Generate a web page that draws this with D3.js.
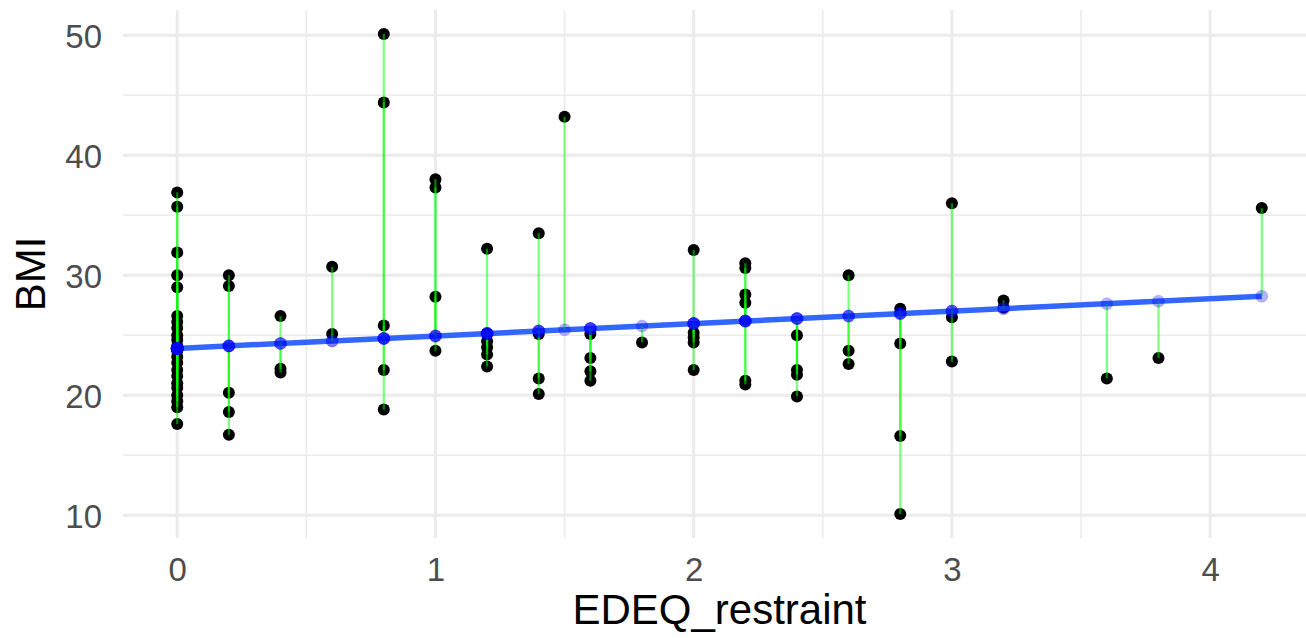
<!DOCTYPE html>
<html>
<head>
<meta charset="utf-8">
<script src="https://cdn.jsdelivr.net/npm/d3@7"></script>
<style>
  body { margin: 0; background: #fff; }
  text { font-family: "Liberation Sans", Arial, Helvetica, sans-serif; }
</style>
</head>
<body>
<div id="chart"></div>
<script>
// EDEQ restraint levels and the BMI values observed at each level
const restraintLevels = [0, 0.2, 0.4, 0.6, 0.8, 1.0, 1.2, 1.4, 1.5, 1.6, 1.8, 2.0, 2.2, 2.4, 2.6, 2.8, 3.0, 3.2, 3.6, 3.8, 4.2];
const bmiAtLevel = [
  [36.9, 35.7, 31.9, 30.0, 29.0, 26.6, 26.1, 25.6, 25.0, 24.6, 24.1, 23.7, 23.2, 22.7, 22.1, 21.6, 21.0, 20.6, 20.0, 19.5, 19.0, 17.6],
  [30.0, 29.1, 20.2, 18.6, 16.7],
  [26.6, 22.2, 21.9],
  [30.7, 25.1],
  [50.1, 44.4, 25.8, 22.1, 18.8],
  [38.0, 37.3, 28.2, 23.7],
  [32.2, 25.1, 24.5, 24.0, 23.4, 22.4],
  [33.5, 25.1, 21.4, 20.1],
  [43.2],
  [25.1, 23.1, 22.0, 21.2],
  [24.4],
  [32.1, 25.2, 24.8, 24.4, 22.1],
  [31.0, 30.6, 28.4, 27.7, 21.2, 20.9],
  [25.0, 22.1, 21.7, 19.9],
  [30.0, 23.7, 22.6],
  [27.2, 24.3, 16.6, 10.1],
  [36.0, 26.5, 22.8],
  [27.9, 27.3],
  [21.4],
  [23.1],
  [35.6]
];

// fitted line: BMI = intercept + slope * restraint
const fitIntercept = 23.9;
const fitSlope = 1.036;

const xTicks = [0, 1, 2, 3, 4];
const xMinor = [0.5, 1.5, 2.5, 3.5];
const yTicks = [10, 20, 30, 40, 50];
const yMinor = [15, 25, 35, 45];

const width = 1306, height = 638;
const panel = { left: 123, right: 1316, top: 10, bottom: 538 };

const points = [];
restraintLevels.forEach((x, i) => {
  bmiAtLevel[i].forEach((y) => {
    points.push({ x: x, y: y, fit: fitIntercept + fitSlope * x });
  });
});

const xExtent = d3.extent(points, (d) => d.x);
const yExtent = d3.extent(points, (d) => d.y);
const xPad = (xExtent[1] - xExtent[0]) * 0.05;
const yPad = (yExtent[1] - yExtent[0]) * 0.05;

const x = d3.scaleLinear()
  .domain([xExtent[0] - xPad, xExtent[1] + xPad])
  .range([panel.left, panel.right]);
const y = d3.scaleLinear()
  .domain([yExtent[0] - yPad, yExtent[1] + yPad])
  .range([panel.bottom, panel.top]);

const svg = d3.select("#chart")
  .append("svg")
  .attr("width", width)
  .attr("height", height);

// grid
const grid = svg.append("g").attr("stroke", "#EBEBEB");
grid.selectAll(".ymin").data(yMinor).join("line")
  .attr("x1", panel.left).attr("x2", panel.right)
  .attr("y1", (d) => y(d)).attr("y2", (d) => y(d))
  .attr("stroke-width", 1.6);
grid.selectAll(".xmin").data(xMinor).join("line")
  .attr("y1", panel.top).attr("y2", panel.bottom)
  .attr("x1", (d) => x(d)).attr("x2", (d) => x(d))
  .attr("stroke-width", 1.6);
grid.selectAll(".ymaj").data(yTicks).join("line")
  .attr("x1", panel.left).attr("x2", panel.right)
  .attr("y1", (d) => y(d)).attr("y2", (d) => y(d))
  .attr("stroke-width", 3);
grid.selectAll(".xmaj").data(xTicks).join("line")
  .attr("y1", panel.top).attr("y2", panel.bottom)
  .attr("x1", (d) => x(d)).attr("x2", (d) => x(d))
  .attr("stroke-width", 3);

// axes (ticks and labels only, theme_minimal style)
const xAxis = svg.append("g")
  .attr("transform", `translate(0, ${panel.bottom})`)
  .call(d3.axisBottom(x).tickValues(xTicks).tickSize(0).tickPadding(10).tickFormat(d3.format("d")));
const yAxis = svg.append("g")
  .attr("transform", `translate(${panel.left}, 0)`)
  .call(d3.axisLeft(y).tickValues(yTicks).tickSize(0).tickPadding(21).tickFormat(d3.format("d")));
[xAxis, yAxis].forEach((a) => {
  a.select(".domain").remove();
  a.selectAll("text")
    .attr("fill", "#4D4D4D")
    .style("font-size", "33px")
    .style("font-family", '"Liberation Sans", Arial, sans-serif');
});
xAxis.selectAll("text").attr("dy", "0.71em").attr("y", 20);
yAxis.selectAll("text").attr("dy", "0.36em");

// observed points
svg.append("g")
  .selectAll("circle")
  .data(points)
  .join("circle")
  .attr("cx", (d) => x(d.x))
  .attr("cy", (d) => y(d.y))
  .attr("r", 6)
  .attr("fill", "black");

// regression line
svg.append("line")
  .attr("x1", x(xExtent[0]))
  .attr("y1", y(fitIntercept + fitSlope * xExtent[0]))
  .attr("x2", x(xExtent[1]))
  .attr("y2", y(fitIntercept + fitSlope * xExtent[1]))
  .attr("stroke", "#3366FF")
  .attr("stroke-width", 5.5);

// residual segments
svg.append("g")
  .selectAll("line")
  .data(points)
  .join("line")
  .attr("x1", (d) => x(d.x))
  .attr("x2", (d) => x(d.x))
  .attr("y1", (d) => y(d.y))
  .attr("y2", (d) => y(d.fit))
  .attr("stroke", "#00FF00")
  .attr("stroke-opacity", 0.5)
  .attr("stroke-width", 2.2);

// fitted values
svg.append("g")
  .selectAll("circle")
  .data(points)
  .join("circle")
  .attr("cx", (d) => x(d.x))
  .attr("cy", (d) => y(d.fit))
  .attr("r", 6)
  .attr("fill", "blue")
  .attr("fill-opacity", 0.3)
  .attr("stroke", "blue")
  .attr("stroke-opacity", 0.15)
  .attr("stroke-width", 1);

// axis titles
svg.append("text")
  .attr("x", (panel.left + panel.right) / 2)
  .attr("y", 624)
  .attr("text-anchor", "middle")
  .style("font-size", "42px")
  .attr("fill", "black")
  .text("EDEQ_restraint");

svg.append("text")
  .attr("transform", `translate(45, ${(panel.top + panel.bottom) / 2}) rotate(-90)`)
  .attr("text-anchor", "middle")
  .style("font-size", "42px")
  .attr("fill", "black")
  .text("BMI");
</script>
</body>
</html>
